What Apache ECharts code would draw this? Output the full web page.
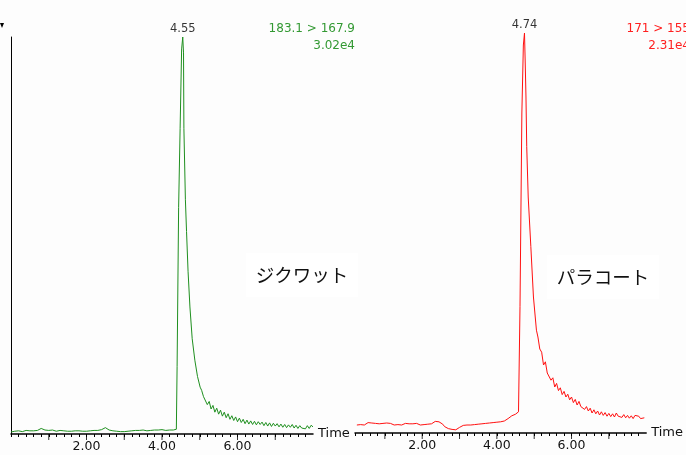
<!DOCTYPE html>
<html>
<head>
<meta charset="utf-8">
<script src="https://cdn.jsdelivr.net/npm/echarts@6/dist/echarts.min.js"></script>
<style>html,body{margin:0;padding:0;background:#fdfdfd;}#c{width:686px;height:455px;}</style>
</head>
<body>
<div id="c"></div>
<script>
// ---- data ----
const compoundNames = ['ジクワット', 'パラコート'];
const transitions = ['183.1 > 167.9', '171 > 155'];
const intensities = ['3.02e4', '2.31e4'];
const xTickLabels = [2, 4, 6];
const majorTicks = [1, 2, 3, 4, 5, 6, 7];

const greenTimes = [
  0.00,0.05,0.10,0.15,0.20,0.25,0.30,0.35,0.40,0.45,0.50,0.55,0.60,0.65,0.70,0.75,0.80,0.85,0.90,0.95,
  1.00,1.05,1.10,1.15,1.20,1.25,1.30,1.35,1.40,1.45,1.50,1.55,1.60,1.65,1.70,1.75,1.80,1.85,1.90,1.95,
  2.00,2.05,2.10,2.15,2.20,2.25,2.30,2.35,2.40,2.45,2.50,2.55,2.60,2.65,2.70,2.75,2.80,2.85,2.90,2.95,
  3.00,3.05,3.10,3.15,3.20,3.25,3.30,3.35,3.40,3.45,3.50,3.55,3.60,3.65,3.70,3.75,3.80,3.85,3.90,3.95,
  4.00,4.05,4.10,4.15,4.20,4.25,4.30,4.35,
  4.38,4.40,4.44,4.48,4.52,4.55,4.57,4.58,4.62,4.65,4.69,4.74,4.80,4.87,4.94,5.01,
  5.05,5.10,5.15,5.20,5.25,5.30,5.35,5.40,5.45,5.50,5.55,5.60,5.65,5.70,5.75,5.80,5.85,5.90,5.95,
  6.00,6.05,6.10,6.15,6.20,6.25,6.30,6.35,6.40,6.45,6.50,6.55,6.60,6.65,6.70,6.75,6.80,6.85,6.90,6.95,
  7.00,7.05,7.10,7.15,7.20,7.25,7.30,7.35,7.40,7.45,7.50,7.55,7.60,7.65,7.70,7.75,7.80,7.85,7.90,7.95,8.00
];
const greenValues = [
  0.5,0.6,0.7,0.6,0.8,0.7,0.6,0.8,0.9,0.7,0.8,0.9,0.8,1.0,0.9,1.2,1.4,1.1,1.0,0.8,
  0.9,0.8,1.0,0.9,0.7,0.8,0.9,0.7,0.8,0.6,0.7,0.8,0.7,0.9,0.8,0.7,0.8,0.9,0.7,0.8,
  0.7,0.9,0.8,0.7,0.9,0.8,0.9,1.0,1.1,1.4,1.6,1.3,1.0,0.9,0.8,0.6,0.7,0.5,0.6,0.7,
  0.6,0.8,0.7,0.9,0.8,0.7,0.9,0.8,0.9,0.8,1.0,0.9,0.8,1.0,0.9,0.8,1.0,0.9,1.0,0.9,
  1.1,1.0,0.9,1.1,1.0,1.1,1.0,1.2,
  1.2,17,57,77,97,100,96,77,59,51,41,32,24,18.6,14.5,11.8,
  11.0,9.4,9.4,7.4,8.2,6.3,7.2,5.5,6.5,5.0,6.0,4.5,5.5,4.1,5.1,3.7,4.6,3.4,4.3,
  3.1,4.0,2.9,3.7,2.6,3.5,2.5,3.3,2.4,3.2,2.3,3.1,2.4,3.0,2.1,2.9,2.0,2.8,1.9,2.7,
  2.0,2.6,1.8,2.5,1.7,2.4,1.6,2.3,1.7,2.4,1.5,2.2,1.4,2.1,1.5,2.0,1.3,2.1,1.4,2.2,1.8
];

const redTimes = [
  0.25,0.30,0.35,0.40,0.45,0.50,0.55,0.60,0.65,0.70,0.75,0.80,0.85,0.90,0.95,
  1.00,1.05,1.10,1.15,1.20,1.25,1.30,1.35,1.40,1.45,1.50,1.55,1.60,1.65,1.70,1.75,1.80,1.85,1.90,1.95,
  2.00,2.05,2.10,2.15,2.20,2.25,2.30,2.35,2.40,2.45,2.50,2.55,2.60,2.65,2.70,2.75,2.80,2.85,2.90,2.95,
  3.00,3.05,3.10,3.15,3.20,3.25,3.30,3.35,3.40,3.45,3.50,3.55,3.60,3.65,3.70,3.75,3.80,3.85,3.90,3.95,
  4.00,4.05,4.10,4.15,4.20,4.25,4.30,4.35,4.40,4.45,4.50,4.55,
  4.58,4.62,4.67,4.71,4.74,4.76,4.78,4.80,4.84,4.91,4.98,5.06,
  5.10,5.15,5.20,5.25,5.30,5.35,5.40,5.45,5.50,5.55,5.60,5.65,5.70,5.75,5.80,5.85,5.90,5.95,
  6.00,6.05,6.10,6.15,6.20,6.25,6.30,6.35,6.40,6.45,6.50,6.55,6.60,6.65,6.70,6.75,6.80,6.85,6.90,6.95,
  7.00,7.05,7.10,7.15,7.20,7.25,7.30,7.35,7.40,7.45,7.50,7.55,7.60,7.65,7.70,7.75,7.80,7.85,7.90,7.95
];
const redValues = [
  2.0,2.3,2.1,2.4,2.0,2.2,2.6,2.3,2.5,2.9,2.4,2.6,2.3,2.7,2.4,
  2.2,2.5,2.1,2.4,2.3,2.0,2.4,2.1,2.3,2.0,2.2,2.4,2.1,2.3,2.0,2.3,2.1,2.4,2.2,2.0,
  2.3,2.1,2.4,2.2,2.5,2.3,2.6,2.9,3.2,2.8,2.5,2.2,1.6,1.3,1.1,1.0,0.9,1.1,0.8,1.0,
  1.4,1.7,1.9,2.1,2.0,2.2,2.0,2.3,2.1,2.4,2.2,2.5,2.3,2.6,2.4,2.2,2.5,2.3,2.6,2.4,
  2.7,2.5,2.8,2.6,3.0,3.3,3.6,4.0,4.3,4.6,4.7,5.0,
  5.3,31.6,80,97,100,92.5,84,71.6,59,46.6,34,25.7,
  24.0,21.0,20.2,17.0,17.8,15.0,15.3,13.2,13.8,11.5,12.4,10.6,11.3,9.6,10.4,9.0,9.7,8.3,
  9.0,7.6,8.4,7.0,7.9,6.6,7.1,5.9,6.6,5.5,6.2,5.0,5.8,4.8,5.5,4.5,5.3,4.4,5.1,4.2,
  4.9,4.1,4.8,4.0,5.0,4.2,4.7,3.9,4.6,3.8,4.4,3.7,4.3,3.6,4.4,3.9,4.2,3.6,4.1,3.8
];

const peakTimes = [4.55, 4.74];
const peakValues = [100, 100];

// ---- chart ----
const zip = (a, b) => a.map((t, i) => [t, b[i]]);
const smallFont = 'DejaVu Sans';
const fmtLabel = v => {
  const r = Math.round(v);
  return (Math.abs(v - r) < 1e-6 && xTickLabels.indexOf(r) >= 0) ? r.toFixed(2) : '';
};
function xAx(idx, min, max) {
  return {
    gridIndex: idx, type: 'value', min: min, max: max, interval: 0.2,
    axisLine: { show: true, onZero: false, lineStyle: { color: '#000', width: 1.5 } },
    axisTick: { show: true, length: 3, lineStyle: { color: '#000', width: 1 } },
    axisLabel: { show: true, formatter: fmtLabel, color: '#111', fontFamily: smallFont, fontSize: 12.5, margin: 6, showMaxLabel: false },
    splitLine: { show: false },
    name: 'Time', nameLocation: 'end', nameGap: 5,
    nameTextStyle: { color: '#111', fontFamily: smallFont, fontSize: 13, verticalAlign: 'middle' }
  };
}
const chart = echarts.init(document.getElementById('c'), null, { renderer: 'canvas' });
chart.setOption({
  backgroundColor: '#fdfdfd',
  animation: false,
  grid: [
    { left: 11, top: 37, width: 302, height: 397 },
    { left: 355, top: 33, width: 293, height: 400 }
  ],
  xAxis: [xAx(0, 0, 8), xAx(1, 0.2, 8)],
  yAxis: [
    { gridIndex: 0, type: 'value', min: 0, max: 100,
      axisLine: { show: true, lineStyle: { color: '#000', width: 1 } },
      axisTick: { show: false }, axisLabel: { show: false }, splitLine: { show: false } },
    { gridIndex: 1, type: 'value', min: 0, max: 100, show: false, splitLine: { show: false } }
  ],
  series: [
    { type: 'line', xAxisIndex: 0, yAxisIndex: 0, data: zip(greenTimes, greenValues),
      showSymbol: false, symbol: 'none', lineStyle: { color: '#1f8f1f', width: 1 } },
    { type: 'line', xAxisIndex: 1, yAxisIndex: 1, data: zip(redTimes, redValues),
      showSymbol: false, symbol: 'none', lineStyle: { color: '#ff1010', width: 1 } },
    { type: 'scatter', xAxisIndex: 0, yAxisIndex: 0, data: [[peakTimes[0], peakValues[0]]],
      symbolSize: 0, label: { show: true, position: 'top', distance: 2, formatter: p => p.value[0].toFixed(2),
      color: '#000', fontFamily: smallFont, fontSize: 11.5 } },
    { type: 'scatter', xAxisIndex: 1, yAxisIndex: 1, data: [[peakTimes[1], peakValues[1]]],
      symbolSize: 0, label: { show: true, position: 'top', distance: 2, formatter: p => p.value[0].toFixed(2),
      color: '#000', fontFamily: smallFont, fontSize: 11.5 } },
    { type: 'scatter', xAxisIndex: 0, yAxisIndex: 0, data: majorTicks.map(t => [t, 0]), clip: false,
      symbol: 'rect', symbolSize: [1, 6], symbolOffset: [0, 3], itemStyle: { color: '#000' }, silent: true },
    { type: 'scatter', xAxisIndex: 1, yAxisIndex: 1, data: majorTicks.map(t => [t, 0]), clip: false,
      symbol: 'rect', symbolSize: [1, 6], symbolOffset: [0, 3], itemStyle: { color: '#000' }, silent: true }
  ],
  graphic: [
    { type: 'text', x: 355, y: 20, style: { text: transitions[0] + '\n' + intensities[0], align: 'right',
      fill: '#339933', font: '12px "DejaVu Sans"', lineHeight: 17 } },
    { type: 'text', x: 690, y: 20, style: { text: transitions[1] + '\n' + intensities[1], align: 'right',
      fill: '#ff2020', font: '12px "DejaVu Sans"', lineHeight: 17 } },
    { type: 'text', x: 302, y: 275, style: { text: compoundNames[0], align: 'center', verticalAlign: 'middle',
      fill: '#111', font: '18.5px "Noto Sans CJK JP"', backgroundColor: '#ffffff', padding: [13, 10] } },
    { type: 'text', x: 603, y: 277, style: { text: compoundNames[1], align: 'center', verticalAlign: 'middle',
      fill: '#111', font: '18.5px "Noto Sans CJK JP"', backgroundColor: '#ffffff', padding: [13, 10] } },
    { type: 'polygon', shape: { points: [[0, 23], [4, 23], [2, 28]] }, style: { fill: '#000' } }
  ]
});
</script>
</body>
</html>
